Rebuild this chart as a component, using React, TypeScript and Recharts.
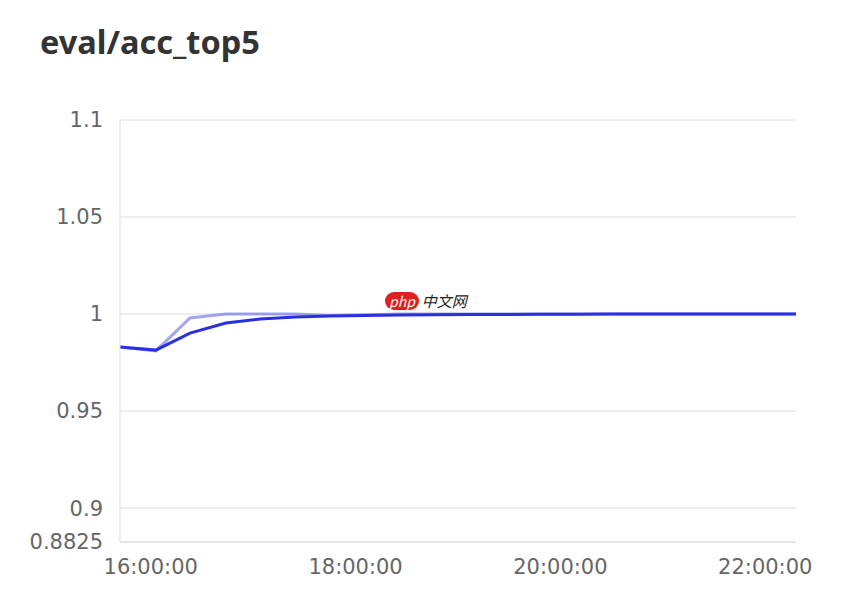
import { CartesianGrid, Line, LineChart, XAxis, YAxis } from 'recharts'

// wall-clock time of each eval step
const times = [
  '15:42', '16:03', '16:23', '16:44', '17:04', '17:25', '17:45', '18:06',
  '18:26', '18:47', '19:07', '19:28', '19:48', '20:09', '20:29', '20:50',
  '21:10', '21:31', '21:51', '22:18',
]
const rawValues = [
  0.983, 0.981, 0.998, 1.0, 1.0, 1.0, 0.9993, 0.9996,
  1.0, 1.0, 1.0, 1.0, 1.0, 1.0, 1.0, 1.0,
  1.0, 1.0, 1.0, 1.0,
]
const smoothedValues = [
  0.983, 0.9814, 0.9902, 0.9954, 0.9974, 0.9985, 0.999, 0.9993,
  0.9995, 0.9996, 0.9997, 0.9998, 0.9999, 0.9999, 1.0, 1.0,
  1.0, 1.0, 1.0, 1.0,
]
const yTicks = [0.8825, 0.9, 0.95, 1, 1.05, 1.1]
const xTicks = ['16:00', '18:00', '20:00', '22:00']

const toMin = (t: string) => {
  const [h, m] = t.split(':').map(Number)
  return h * 60 + m
}

const data = times.map((t, i) => ({
  t: toMin(t),
  raw: rawValues[i],
  smooth: smoothedValues[i],
}))

const fmtTime = (v: number) => {
  const h = Math.floor(v / 60)
  const m = Math.round(v % 60)
  return `${h}:${String(m).padStart(2, '0')}:00`
}

const tickStyle = { fontSize: 21, fill: '#666', fontFamily: 'DejaVu Sans' }

export default function App() {
  return (
    <div style={{ position: 'absolute', left: 0, top: 0, width: 856, height: 602, background: '#fff' }}>
      <div
        style={{
          position: 'absolute', left: 40, top: 19,
          fontFamily: '"Noto Sans", sans-serif', fontWeight: 700,
          fontSize: 32.5, color: '#333',
        }}
      >
        eval/acc_top5
      </div>
      <div
        style={{
          position: 'absolute', left: 385, top: 290, display: 'flex',
          alignItems: 'center', fontFamily: '"Noto Sans CJK SC", sans-serif',
          fontSize: 15, zIndex: 2,
        }}
      >
        <span
          style={{
            background: '#e02020', color: '#fff', borderRadius: 10,
            padding: '0 4px', fontStyle: 'italic', fontSize: 14, lineHeight: '18px',
          }}
        >
          php
        </span>
        <span style={{ marginLeft: 3, color: '#222', fontStyle: 'italic' }}>中文网</span>
      </div>
      <LineChart
        width={856}
        height={602}
        data={data}
        margin={{ top: 120, right: 60, bottom: 20, left: 0 }}
      >
        <CartesianGrid vertical={false} stroke="#dcdcdc" />
        <XAxis
          dataKey="t"
          type="number"
          domain={[942.5, 1338]}
          ticks={xTicks.map(toMin)}
          tickFormatter={fmtTime}
          stroke="#dcdcdc"
          tickLine={false}
          tickSize={0}
          tickMargin={17}
          height={40}
          tick={tickStyle}
        />
        <YAxis
          type="number"
          domain={[0.8825, 1.1]}
          ticks={yTicks}
          interval={0}
          width={120}
          stroke="#dcdcdc"
          tickLine={false}
          tickSize={0}
          tickMargin={17}
          tick={tickStyle}
        />
        <Line
          dataKey="raw" type="linear" stroke="#3237e0" strokeOpacity={0.45}
          strokeWidth={3} dot={false} isAnimationActive={false}
        />
        <Line
          dataKey="smooth" type="linear" stroke="#2a2fe0"
          strokeWidth={3} dot={false} isAnimationActive={false}
        />
      </LineChart>
    </div>
  )
}
